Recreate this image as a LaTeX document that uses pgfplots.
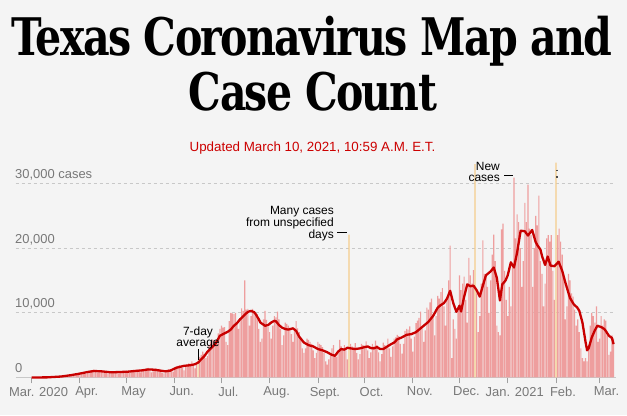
\documentclass[border=0pt]{standalone}
\usepackage{pgfplots}
\pgfplotsset{compat=1.18}
\usepackage{fontspec}
\setmainfont{Liberation Sans}
\newfontfamily\titlefont{DejaVu Serif}[LetterSpace=-4]
\definecolor{bgc}{RGB}{244,244,244}
\definecolor{barc}{RGB}{238,158,158}
\definecolor{orc}{RGB}{245,205,140}
\definecolor{linec}{RGB}{200,0,0}
\definecolor{subc}{RGB}{204,0,0}
\definecolor{tickc}{RGB}{120,120,120}
\definecolor{gridc}{RGB}{200,200,200}
\begin{document}
\begin{tikzpicture}[x=1bp,y=1bp]
\fill[bgc] (0,0) rectangle (627,415);
\node[anchor=base, inner sep=0] at (312,360) {\resizebox{601bp}{\height}{\titlefont\bfseries\fontsize{52}{56}\selectfont Texas Coronavirus Map and}};
\node[anchor=base, inner sep=0] at (313,305) {\resizebox{248bp}{\height}{\titlefont\bfseries\fontsize{52}{56}\selectfont Case Count}};
\node[anchor=base, inner sep=0, text=subc] at (312.5,263.3) {\fontsize{13.4}{15}\selectfont Updated March 10, 2021, 10:59 A.M. E.T.};
\begin{axis}[at={(10,58)}, anchor=south west, scale only axis,
  width=600bp, height=216.7bp,
  xmin=-10.3, xmax=375.3, ymin=0, ymax=33500, clip=false,
  axis line style={draw=none},
  xtick={0,31,61,92,122,153,184,214,245,275,306,337,365},
  xticklabels={Mar. 2020,Apr.,May,Jun.,Jul.,Aug.,Sept.,Oct.,Nov.,Dec.,Jan. 2021,Feb.,Mar.},
  xtick pos=left, tick align=outside, major tick length=6bp,
  xtick style={draw=tickc!70, line width=0.8bp},
  xticklabel style={font=\fontsize{13}{13}\selectfont, text=tickc, xshift=7bp},
  ytick={10000,20000,30000}, yticklabels={}, ytick style={draw=none},
  scaled y ticks=false,
  ymajorgrids, grid style={draw=gridc, dash pattern=on 3bp off 3bp, line width=0.8bp},
]
\draw[gridc, line width=0.8bp] (axis cs:-10.3,0) -- (axis cs:375.3,0);
\addplot[ybar, bar width=1.15bp, bar shift=0pt, fill=barc, draw=none] coordinates {
(0,0)(1,0)(2,0)(3,1)(4,2)(5,3)(6,5)
(7,5)(8,8)(9,15)(10,20)(11,25)(12,35)(13,50)
(14,40)(15,60)(16,80)(17,110)(18,140)(19,160)(20,150)
(21,200)(22,260)(23,320)(24,350)(25,420)(26,480)(27,520)
(28,450)(29,480)(30,600)(31,680)(32,720)(33,780)(34,650)
(35,600)(36,850)(37,1000)(38,1100)(39,1050)(40,1200)(41,950)
(42,700)(43,800)(44,1050)(45,1100)(46,950)(47,1000)(48,850)
(49,600)(50,700)(51,900)(52,950)(53,850)(54,900)(55,750)
(56,650)(57,800)(58,1000)(59,1000)(60,900)(61,1050)(62,850)
(63,700)(64,900)(65,1100)(66,1150)(67,1100)(68,1200)(69,900)
(70,800)(71,1050)(72,1250)(73,1350)(74,1400)(75,1500)(76,1100)
(77,800)(78,950)(79,1300)(80,1400)(81,1250)(82,1350)(83,1000)
(84,700)(85,650)(86,950)(87,1100)(88,1300)(89,1250)(90,1050)
(91,900)(92,1300)(93,1700)(94,1800)(95,1900)(96,1800)(97,1500)
(98,1100)(99,1700)(100,2000)(101,2200)(102,2100)(103,2500)(104,1900)
(105,1400)(106,2000)(107,0)(108,3200)(109,3500)(110,4000)(111,3600)
(112,3000)(113,3300)(114,5000)(115,5500)(116,5900)(117,5800)(118,5700)
(119,5200)(120,6800)(121,7500)(122,8000)(123,7700)(124,7800)(125,5500)
(126,5000)(127,8700)(128,10000)(129,9900)(130,9800)(131,10000)(132,8500)
(133,7500)(134,9000)(135,10700)(136,10300)(137,15000)(138,10500)(139,10600)
(140,8000)(141,9500)(142,10600)(143,10200)(144,9600)(145,9800)(146,7500)
(147,5500)(148,6000)(149,9000)(150,10300)(151,8900)(152,7800)(153,7000)
(154,6000)(155,8000)(156,9500)(157,9300)(158,10200)(159,9000)(160,7500)
(161,5000)(162,6500)(163,8500)(164,8300)(165,8000)(166,7700)(167,6700)
(168,5500)(169,7200)(170,8700)(171,7600)(172,7000)(173,6000)(174,4500)
(175,3800)(176,4500)(177,6000)(178,5800)(179,5500)(180,5200)(181,4200)
(182,3000)(183,3800)(184,5500)(185,5200)(186,5000)(187,4700)(188,3800)
(189,2500)(190,2000)(191,2800)(192,3600)(193,4500)(194,5000)(195,3600)
(196,3200)(197,4000)(198,5800)(199,4800)(200,4500)(201,5000)(202,4200)
(203,2800)(204,0)(205,5200)(206,4800)(207,4600)(208,5300)(209,3800)
(210,2800)(211,3600)(212,5200)(213,5000)(214,4900)(215,5600)(216,4200)
(217,3000)(218,3900)(219,5200)(220,4800)(221,5700)(222,5000)(223,3900)
(224,2500)(225,3600)(226,5400)(227,5000)(228,4800)(229,6000)(230,4500)
(231,3200)(232,4800)(233,6000)(234,6200)(235,6600)(236,6400)(237,5200)
(238,3700)(239,5200)(240,7200)(241,7500)(242,7400)(243,7900)(244,6000)
(245,4000)(246,6300)(247,8400)(248,8800)(249,9200)(250,10200)(251,7600)
(252,5500)(253,7300)(254,10800)(255,10500)(256,11600)(257,12200)(258,9700)
(259,6500)(260,9500)(261,12600)(262,12200)(263,13200)(264,13800)(265,11000)
(266,8000)(267,12000)(268,15000)(269,20400)(270,3000)(271,9000)(272,7500)
(273,6000)(274,10300)(275,15800)(276,13500)(277,14500)(278,15600)(279,12000)
(280,8500)(281,18500)(282,15800)(283,14500)(284,16600)(285,0)(286,13000)
(287,7000)(288,9500)(289,14500)(290,21200)(291,16000)(292,15800)(293,14000)
(294,10000)(295,15000)(296,19000)(297,22100)(298,18000)(299,8000)(300,7000)
(301,6500)(302,22900)(303,23800)(304,16500)(305,12000)(306,9500)(307,14000)
(308,11000)(309,17000)(310,30900)(311,21500)(312,25200)(313,24000)(314,20000)
(315,14000)(316,18000)(317,27000)(318,24000)(319,29800)(320,23000)(321,22000)
(322,14000)(323,20000)(324,25000)(325,23500)(326,28100)(327,18000)(328,16000)
(329,11000)(330,14500)(331,21500)(332,22000)(333,21000)(334,22000)(335,16500)
(336,12000)(337,0)(338,22000)(339,23000)(340,21000)(341,19000)(342,15500)
(343,9000)(344,11000)(345,16000)(346,15000)(347,13000)(348,12500)(349,10500)
(350,8000)(351,9000)(352,7000)(353,4500)(354,3000)(355,2500)(356,3000)
(357,2500)(358,5000)(359,8000)(360,10000)(361,9500)(362,8500)(363,11000)
(364,5500)(365,6000)(366,9500)(367,8000)(368,9000)(369,8800)(370,6500)
(371,3500)(372,4000)(373,6500)(374,6000)
};
\addplot[ybar, bar width=1.15bp, bar shift=0pt, fill=orc, draw=none] coordinates {
(107,2600)(204,22100)(285,33000)(337,33200)
};
\addplot[line width=2.3bp, color=linec, line join=round] coordinates {
(0,0)(10,20)(19,150)(25,350)(31,600)(36,850)(40,1000)(45,950)(51,800)(57,850)
(62,900)(66,1000)(71,1100)(75,1250)(79,1200)(83,1050)(86,950)(89,1050)(93,1500)
(98,1800)(102,1900)(105,2050)(107,2300)(109,2800)(111,3300)(113,3970)(116,4700)
(118,5150)(120,6000)(121,6450)(123,6700)(126,7060)(128,7400)(130,8000)(132,8400)
(134,9000)(137,9700)(139,10150)(141,10300)(143,10100)(144,9800)(146,9000)(147,8500)
(150,8000)(152,8100)(154,8500)(156,8760)(157,8700)(159,8100)(161,7700)(163,7500)
(165,7400)(168,7600)(170,7200)(172,6300)(175,5400)(178,5000)(181,4800)(184,4400)
(187,4200)(190,3900)(193,3500)(195,3350)(197,4000)(199,4400)(201,4300)(203,4600)
(205,4500)(208,4400)(211,4500)(214,4700)(216,4800)(218,4550)(220,4500)(222,4700)
(224,4400)(226,4400)(228,4700)(231,5150)(233,5400)(235,5900)(238,6200)(241,6600)
(244,6700)(247,7000)(250,7600)(252,8000)(255,8600)(258,9500)(261,10800)(263,11200)
(265,11500)(267,12200)(269,13400)(271,11500)(273,10150)(274,10600)(275,11100)
(276,10200)(278,12500)(280,14400)(282,14100)(284,14200)(286,13500)(288,12500)
(290,14200)(292,15800)(295,16400)(297,17000)(299,15400)(301,11900)(302.5,14400)
(304.6,15000)(306,15800)(308,17800)(310,17000)(312,19300)(314.3,22700)(317,22600)
(319,21950)(321.7,22800)(324,20900)(325.3,20350)(327,19800)(328,18800)(330,17400)
(331.7,18700)(333.5,17300)(336,17200)(338.7,17900)(341,16500)(343,14700)(344.3,13650)
(346,12300)(348.4,11330)(350.7,10800)(352,10300)(354,8500)(356,5500)(357,4200)
(358,4500)(360,6200)(362,7300)(363.6,8000)(366,7800)(368,7500)(369,7200)(371,6450)
(373,6100)(374,5150)
};
\end{axis}
% y labels
\node[anchor=base west, inner sep=0, text=tickc] at (15,237) {\fontsize{13}{13}\selectfont 30,000 cases};
\node[anchor=base west, inner sep=0, text=tickc] at (15,172) {\fontsize{13}{13}\selectfont 20,000};
\node[anchor=base west, inner sep=0, text=tickc] at (15,108) {\fontsize{13}{13}\selectfont 10,000};
\node[anchor=base west, inner sep=0, text=tickc] at (15,43) {\fontsize{13}{13}\selectfont 0};
% annotations
\node[anchor=base, inner sep=0] at (198,80) {\fontsize{12}{12}\selectfont 7-day};
\node[anchor=base, inner sep=0] at (198,69) {\fontsize{12}{12}\selectfont average};
\draw[black, line width=0.9bp] (198,66) -- (198,55.5);
\node[anchor=base east, inner sep=0] at (334,201) {\fontsize{12}{12}\selectfont Many cases};
\node[anchor=base east, inner sep=0] at (334,189) {\fontsize{12}{12}\selectfont from unspecified};
\node[anchor=base east, inner sep=0] at (334,177) {\fontsize{12}{12}\selectfont days};
\draw[black, line width=0.9bp] (337,183) -- (347,183);
\node[anchor=base east, inner sep=0] at (500,245) {\fontsize{12}{12}\selectfont New};
\node[anchor=base east, inner sep=0] at (500,233.5) {\fontsize{12}{12}\selectfont cases};
\draw[black, line width=0.9bp] (504,240) -- (513,240);
\draw[black!70, line width=1.2bp] (557,245.5) -- (557,244);
\draw[black!70, line width=1.2bp] (557,239) -- (557,237.5);
\pgfresetboundingbox
\useasboundingbox (0,0) rectangle (627,415);
\end{tikzpicture}
\end{document}
